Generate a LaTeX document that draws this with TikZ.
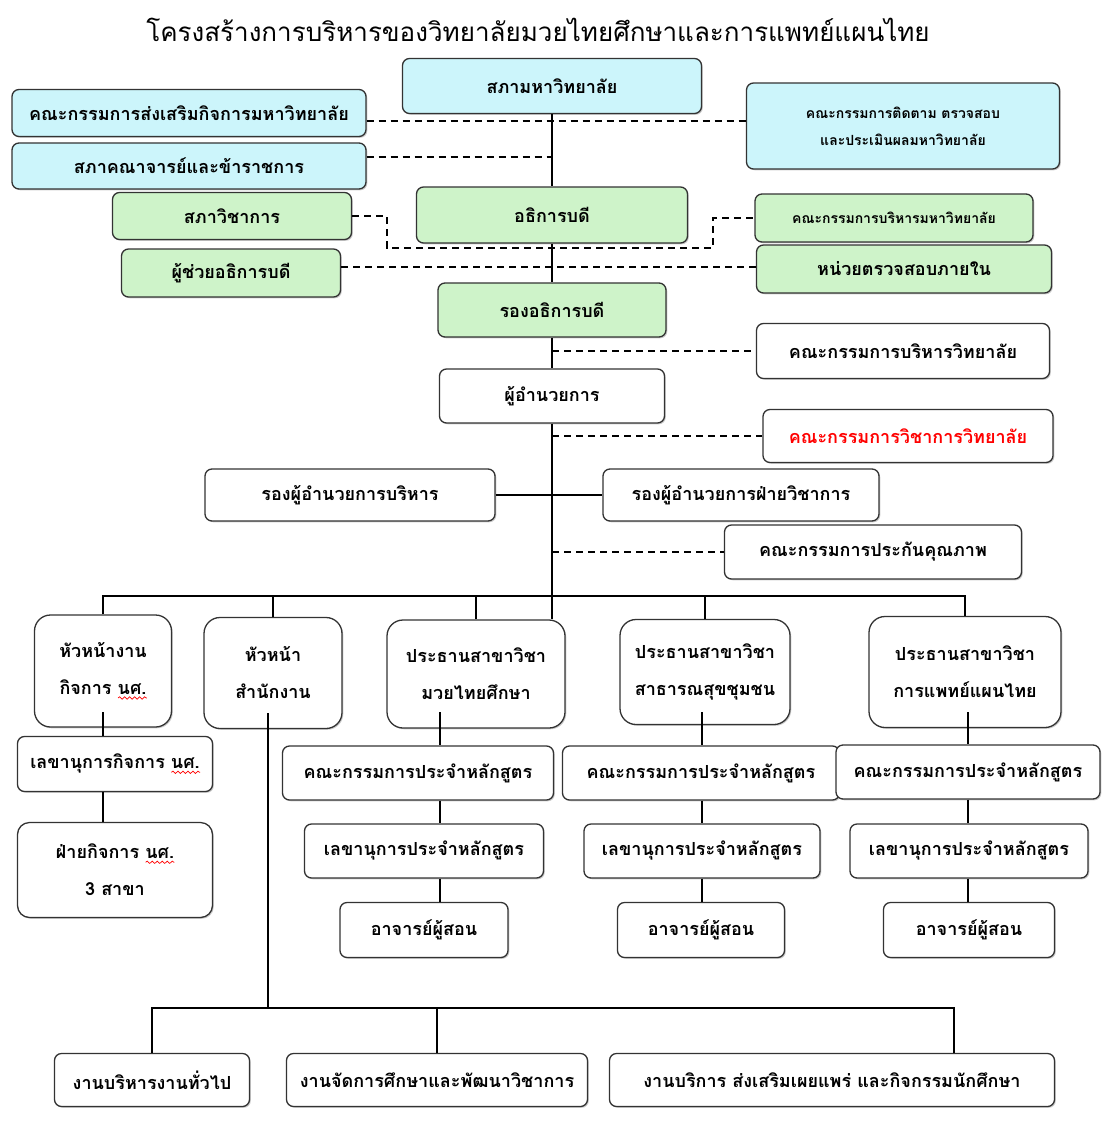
\documentclass[tikz,border=0pt]{standalone}
\usepackage{fontspec}
\usetikzlibrary{positioning,shadows,decorations.pathmorphing}
\newfontfamily\thaifont[Script=Thai]{Loma}
\definecolor{skyfill}{HTML}{CCF5FB}
\definecolor{leaffill}{HTML}{CEF3C9}
\newcommand{\redwave}[1]{\setbox0\hbox{#1}\leavevmode\rlap{\raisebox{-5pt}{\tikz[x=1pt,y=1pt]\draw[sharp corners, red, line width=0.7pt, decorate, decoration={snake, amplitude=1.2pt, segment length=5pt}] (0,0) -- (\the\wd0,0);}}#1}

\begin{document}
\begin{tikzpicture}[x=1pt, y=-1pt,
    org/.style={draw=black!80, line width=1.3pt, rounded corners=7pt, fill=white, align=center, inner sep=2pt,
        font=\thaifont\bfseries\fontsize{18}{21}\selectfont,
        drop shadow={shadow xshift=1.3pt, shadow yshift=-1.3pt, fill=black!40}},
    sky/.style={org, fill=skyfill},
    leaf/.style={org, fill=leaffill},
    head/.style={org, rounded corners=16pt, font=\thaifont\bfseries\fontsize{18}{37}\selectfont},
    small/.style={font=\thaifont\bfseries\fontsize{14}{27}\selectfont},
    link/.style={line width=1.2pt},
    dashlink/.style={line width=1.2pt, dash pattern=on 7pt off 5pt}]
    \useasboundingbox (0,0) rectangle (1105,1135);

    \node[font=\thaifont\fontsize{26}{30}\selectfont] (title) at (538,30) {โครงสร้างการบริหารของวิทยาลัยมวยไทยศึกษาและการแพทย์แผนไทย};

    \node[sky, minimum width=299pt, minimum height=55pt] (council) at (552,86) {สภามหาวิทยาลัย};
    \node[sky, minimum width=354pt, minimum height=47pt] (promo) at (189,113) {คณะกรรมการส่งเสริมกิจการมหาวิทยาลัย};
    \node[sky, minimum width=354pt, minimum height=46pt] (faculty) at (189,166) {สภาคณาจารย์และข้าราชการ};
    \node[sky, small, minimum width=313pt, minimum height=86pt] (audit) at (903,126) {คณะกรรมการติดตาม ตรวจสอบ\\และประเมินผลมหาวิทยาลัย};
    \node[leaf, minimum width=239pt, minimum height=47pt] (academic) at (232,216) {สภาวิชาการ};
    \node[leaf, minimum width=271pt, minimum height=56pt] (rector) at (552,215) {อธิการบดี};
    \node[leaf, small, minimum width=278pt, minimum height=48pt] (board) at (894,218) {คณะกรรมการบริหารมหาวิทยาลัย};
    \node[leaf, minimum width=219pt, minimum height=48pt] (assist) at (231,273) {ผู้ช่วยอธิการบดี};
    \node[leaf, minimum width=295pt, minimum height=48pt] (inaudit) at (904,269) {หน่วยตรวจสอบภายใน};
    \node[leaf, minimum width=228pt, minimum height=54pt] (vicerector) at (552,310) {รองอธิการบดี};
    \node[org, minimum width=293pt, minimum height=55pt] (collboard) at (903,351) {คณะกรรมการบริหารวิทยาลัย};
    \node[org, minimum width=225pt, minimum height=54pt] (director) at (552,396) {ผู้อำนวยการ};
    \node[org, text=red, minimum width=290pt, minimum height=53pt] (acadboard) at (908,436) {คณะกรรมการวิชาการวิทยาลัย};
    \node[org, minimum width=290pt, minimum height=52pt] (viceadmin) at (350,495) {รองผู้อำนวยการบริหาร};
    \node[org, minimum width=276pt, minimum height=52pt] (viceacad) at (741,495) {รองผู้อำนวยการฝ่ายวิชาการ};
    \node[org, minimum width=297pt, minimum height=54pt] (quality) at (873,552) {คณะกรรมการประกันคุณภาพ};

    \node[head, minimum width=137pt, minimum height=112pt] (students) at (103,671) {หัวหน้างาน\\กิจการ \redwave{นศ.}};
    \node[head, minimum width=138pt, minimum height=111pt] (office) at (273,673) {หัวหน้า\\สำนักงาน};
    \node[head, minimum width=178pt, minimum height=108pt] (muaythai) at (476,674) {ประธานสาขาวิชา\\มวยไทยศึกษา};
    \node[head, minimum width=170pt, minimum height=105pt] (health) at (705,672) {ประธานสาขาวิชา\\สาธารณสุขชุมชน};
    \node[head, minimum width=192pt, minimum height=111pt] (medicine) at (965,672) {ประธานสาขาวิชา\\การแพทย์แผนไทย};

    \node[org, minimum width=195pt, minimum height=55pt] (stusec) at (115,764) {เลขานุการกิจการ \redwave{นศ.}};
    \node[head, rounded corners=12pt, minimum width=195pt, minimum height=95pt] (studiv) at (115,870) {ฝ่ายกิจการ \redwave{นศ.}\\3 สาขา};

    \node[org, minimum width=271pt, minimum height=54pt] (mtcom) at (418,773) {คณะกรรมการประจำหลักสูตร};
    \node[org, minimum width=239pt, minimum height=54pt] (mtsec) at (424,851) {เลขานุการประจำหลักสูตร};
    \node[org, minimum width=168pt, minimum height=55pt] (mtstaff) at (424,930) {อาจารย์ผู้สอน};
    \node[org, minimum width=277pt, minimum height=54pt] (hlcom) at (701,773) {คณะกรรมการประจำหลักสูตร};
    \node[org, minimum width=236pt, minimum height=54pt] (hlsec) at (702,851) {เลขานุการประจำหลักสูตร};
    \node[org, minimum width=167pt, minimum height=55pt] (hlstaff) at (701,930) {อาจารย์ผู้สอน};
    \node[org, minimum width=264pt, minimum height=54pt] (mdcom) at (968,772) {คณะกรรมการประจำหลักสูตร};
    \node[org, minimum width=238pt, minimum height=54pt] (mdsec) at (969,851) {เลขานุการประจำหลักสูตร};
    \node[org, minimum width=171pt, minimum height=55pt] (mdstaff) at (969,930) {อาจารย์ผู้สอน};

    \node[org, minimum width=195pt, minimum height=53pt] (general) at (152,1080) {งานบริหารงานทั่วไป};
    \node[org, minimum width=301pt, minimum height=53pt] (eduwork) at (437,1080) {งานจัดการศึกษาและพัฒนาวิชาการ};
    \node[org, minimum width=445pt, minimum height=53pt] (service) at (832,1080) {งานบริการ ส่งเสริมเผยแพร่ และกิจกรรมนักศึกษา};

    \draw[link] (council) -- (rector) -- (vicerector) -- (director);
    \draw[link] (director.south) -- (director.south |- muaythai.north);
    \draw[link] (viceadmin) -- (viceacad);

    \coordinate (busL) at (103,596);
    \coordinate (busR) at (965,596);
    \draw[link] (students.north) |- (busR) -- (medicine.north);
    \foreach \n in {office, muaythai, health}
        \draw[link] (\n.north) -- (\n.north |- busL);

    \coordinate (stuL) at (103,712);
    \draw[link] (stuL) -- (stuL |- stusec.north) (stuL |- stusec.south) -- (stuL |- studiv.north);
    \foreach \c/\x in {mt/440, hl/702, md/968} {
        \coordinate (\c L) at (\x,712);
        \draw[link] (\c L) -- (\c L |- \c com.north) (\c L |- \c com.south) -- (\c L |- \c sec.north)
            (\c L |- \c sec.south) -- (\c L |- \c staff.north);
    }

    \coordinate (offL) at (268,713);
    \coordinate (lowL) at (152,1008);
    \coordinate (lowR) at (954,1008);
    \draw[link] (offL) -- (offL |- lowL);
    \draw[link] (general.north) |- (lowR) -- (lowR |- service.north);
    \draw[link] (eduwork.north |- lowL) -- (eduwork.north);

    \coordinate (pr) at ([yshift=-8pt]promo.east);
    \draw[dashlink] (pr) -- (pr -| audit.west);
    \coordinate (fa) at ([yshift=9pt]faculty.east);
    \draw[dashlink] (fa) -- (fa -| council.south);
    \coordinate (brL) at (387,248);
    \coordinate (brR) at (713,248);
    \draw[dashlink] (academic.east) -| (brL) -- (brR) |- (board.west);
    \coordinate (as) at ([yshift=6pt]assist.east);
    \draw[dashlink] (as) -- (as -| inaudit.west);
    \draw[dashlink] (collboard.west -| director.north) -- (collboard.west);
    \draw[dashlink] (acadboard.west -| director.south) -- (acadboard.west);
    \draw[dashlink] (quality.west -| director.south) -- (quality.west);
\end{tikzpicture}
\end{document}
